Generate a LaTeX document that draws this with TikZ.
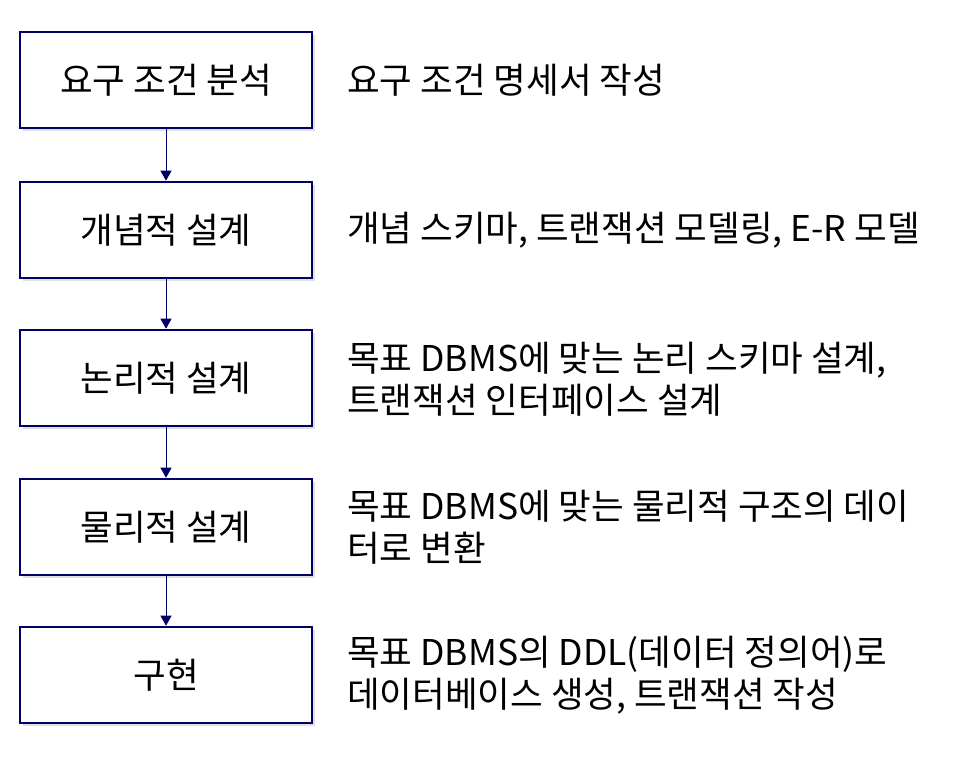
\documentclass[tikz,border=0pt]{standalone}
\usepackage{fontspec}
\setmainfont{Noto Sans CJK KR}
\usetikzlibrary{arrows.meta,shadows}
\definecolor{navy}{HTML}{000066}
\tikzset{
  stage/.style={draw=navy, line width=2.6pt, fill=white, minimum width=292pt, minimum height=96pt,
    inner sep=0pt, font=\fontsize{35.5}{42}\selectfont,
    drop shadow={shadow xshift=3pt, shadow yshift=-3pt, opacity=0.2, fill=black!60}},
  desc/.style={anchor=west, align=left, inner sep=0pt, font=\fontsize{35.5}{42}\selectfont},
  flow/.style={draw=navy, line width=1pt, -{Triangle[length=10pt,width=11pt]}}
}
\begin{document}
\begin{tikzpicture}[x=1pt,y=-1pt]
\useasboundingbox (0,0) rectangle (956,759);
\node[stage] (s1) at (166,80) {요구 조건 분석};
\node[stage] (s2) at (166,230) {개념적 설계};
\node[stage] (s3) at (166,378) {논리적 설계};
\node[stage] (s4) at (166,527) {물리적 설계};
\node[stage] (s5) at (166,675) {구현};
\node[desc] (d1) at (347,80) {요구 조건 명세서 작성};
\node[desc] (d2) at (347,230) {개념 스키마, 트랜잭션 모델링, E-R 모델};
\node[desc] (d3) at (347,379) {목표 DBMS에 맞는 논리 스키마 설계,\\트랜잭션 인터페이스 설계};
\node[desc] (d4) at (347,527) {목표 DBMS에 맞는 물리적 구조의 데이\\터로 변환};
\node[desc] (d5) at (347,675) {목표 DBMS의 DDL(데이터 정의어)로\\데이터베이스 생성, 트랜잭션 작성};
\draw[flow] (s1.south) -- (s2.north);
\draw[flow] (s2.south) -- (s3.north);
\draw[flow] (s3.south) -- (s4.north);
\draw[flow] (s4.south) -- (s5.north);
\end{tikzpicture}
\end{document}
